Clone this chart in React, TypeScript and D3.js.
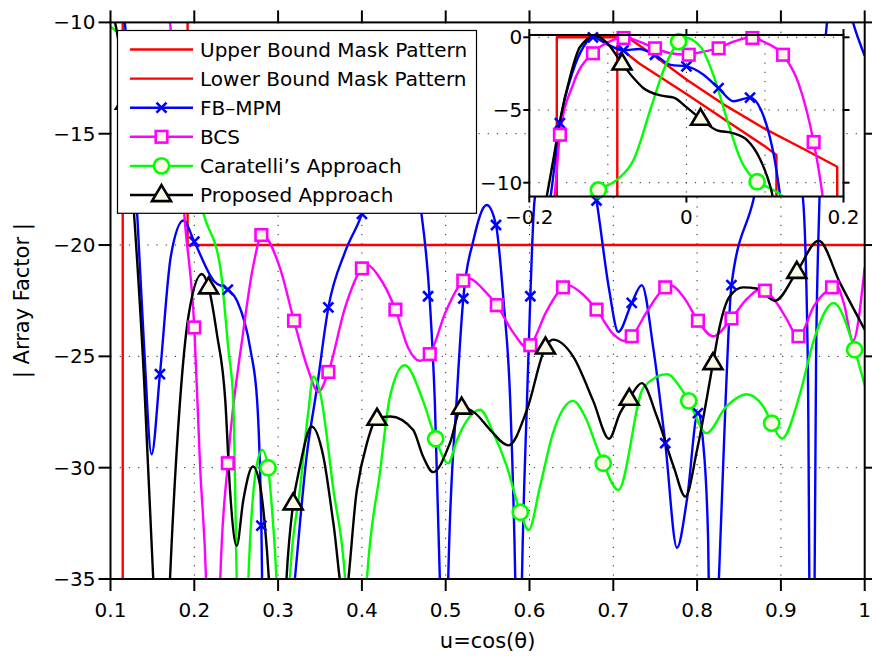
import React from 'react';
import * as d3 from 'd3';

// ---------- axis ticks ----------
const X_TICKS = [0.1, 0.2, 0.3, 0.4, 0.5, 0.6, 0.7, 0.8, 0.9, 1.0];
const X_TICK_LABELS = ['0.1', '0.2', '0.3', '0.4', '0.5', '0.6', '0.7', '0.8', '0.9', '1'];
const Y_TICKS = [-10, -15, -20, -25, -30, -35];
const Y_TICK_LABELS = ['−10', '−15', '−20', '−25', '−30', '−35'];
const INSET_X_TICKS = [-0.2, 0, 0.2];
const INSET_X_TICK_LABELS = ['−0.2', '0', '0.2'];
const INSET_X_GRID = [-0.1, 0, 0.1];
const INSET_Y_TICKS = [0, -5, -10];
const INSET_Y_TICK_LABELS = ['0', '−5', '−10'];

const LEGEND_LABELS = [
  'Upper Bound Mask Pattern',
  'Lower Bound Mask Pattern',
  'FB–MPM',
  'BCS',
  'Caratelli’s Approach',
  'Proposed Approach',
];

// ---------- masks ----------
const UPPER_U = [-0.165, -0.165, -0.075, -0.04, 0.0, 0.05, 0.1, 0.15, 0.192, 0.192, 1.0];
const UPPER_DB = [-60, 0, 0, -1.3, -2.9, -4.7, -6.3, -7.7, -8.9, -20, -20];
const LOWER_U = [-0.088, -0.088, -0.06, 0.0, 0.05, 0.1, 0.1146, 0.1146];
const LOWER_DB = [-60, -0.6, -1.8, -3.9, -5.7, -7.5, -8.1, -60];

// ---------- FB-MPM ----------
const FB_U = [-0.19, -0.173, -0.161, -0.144, -0.131, -0.119, -0.1, -0.08, -0.06, -0.04, -0.02, 0.0, 0.02, 0.041, 0.06, 0.081, 0.095, 0.106, 0.112, 0.117, 0.122, 0.132, 0.14, 0.149, 0.159, 0.172, 0.187, 0.2, 0.223, 0.24, 0.251, 0.267, 0.275, 0.28, 0.283, 0.302, 0.32, 0.334, 0.346, 0.36, 0.38, 0.4, 0.436, 0.469, 0.481, 0.487, 0.493, 0.498, 0.503, 0.513, 0.521, 0.533, 0.549, 0.56, 0.569, 0.577, 0.583, 0.587, 0.591, 0.597, 0.601, 0.606, 0.643, 0.68, 0.695, 0.706, 0.722, 0.734, 0.748, 0.762, 0.776, 0.788, 0.801, 0.807, 0.813, 0.8175, 0.826, 0.834, 0.841, 0.867, 0.895, 0.926, 0.932, 0.937, 0.942, 0.946, 0.955, 0.97, 0.986, 1.0];
const FB_DB = [-16, -11.0, -5.9, -2.25, -0.65, 0.0, -0.5, -0.9, -0.8, -1.2, -1.9, -2.0, -2.5, -3.5, -4.4, -4.15, -5.0, -6.8, -8.3, -10.0, -12.0, -18.7, -24.5, -29.4, -25.8, -20.5, -18.9, -19.85, -21.6, -22.0, -22.5, -24.7, -27.0, -32.6, -40, -42, -35, -29.5, -26.5, -22.8, -20.3, -18.6, -13.0, -18.0, -22.5, -27.0, -35, -45, -35, -27.0, -22.4, -19.8, -18.2, -19.1, -22.5, -27.0, -35, -45, -35, -27.0, -22.3, -18.0, -12.0, -18.0, -22.0, -23.9, -22.6, -21.8, -24.7, -28.9, -33.6, -31.4, -27.55, -28.8, -33.0, -45, -35, -27.0, -21.8, -18.0, -13.0, -17.8, -25, -50, -25, -18, -10.0, -7.5, -10.0, -11.5];
const FB_MK_U = [-0.161, -0.119, -0.08, -0.04, 0.0, 0.041, 0.081, 0.159, 0.2, 0.24, 0.28, 0.36, 0.4, 0.44, 0.479, 0.521, 0.56, 0.601, 0.64, 0.68, 0.722, 0.762, 0.801, 0.841, 0.88, 0.92];
const FB_MK_DB = [-5.9, 0.0, -0.9, -1.2, -2.0, -3.5, -4.15, -25.8, -19.85, -22.0, -32.6, -22.8, -18.6, -13.5, -22.3, -22.4, -19.1, -22.3, -12.5, -18.0, -22.6, -28.9, -27.55, -21.8, -13.5, -15.5];

// ---------- BCS ----------
const BCS_U = [-0.175, -0.168, -0.161, -0.144, -0.12, -0.1, -0.08, -0.06, -0.04, -0.02, 0.0, 0.02, 0.04, 0.06, 0.083, 0.1, 0.123, 0.143, 0.162, 0.171, 0.18, 0.188, 0.2, 0.207, 0.214, 0.2225, 0.231, 0.24, 0.258, 0.27, 0.281, 0.302, 0.319, 0.335, 0.348, 0.36, 0.38, 0.4, 0.407, 0.42, 0.44, 0.455, 0.469, 0.481, 0.5, 0.521, 0.528, 0.545, 0.561, 0.58, 0.597, 0.601, 0.62, 0.64, 0.646, 0.66, 0.68, 0.7, 0.712, 0.722, 0.74, 0.762, 0.768, 0.785, 0.801, 0.819, 0.841, 0.86, 0.875, 0.881, 0.895, 0.905, 0.921, 0.94, 0.961, 0.966, 0.975, 0.986, 1.0];
const BCS_DB = [-13, -11.0, -6.7, -3.2, -1.1, -0.35, 0.0, -0.3, -0.76, -1.1, -1.2, -1.0, -0.76, -0.3, 0.0, -0.35, -1.2, -3.2, -7.2, -10.0, -14.0, -18.6, -23.7, -30.0, -35, -50, -35, -29.8, -24.0, -21.0, -19.55, -21.0, -23.4, -25.5, -26.6, -25.7, -22.8, -21.05, -20.9, -21.4, -22.9, -24.6, -25.2, -24.9, -23.0, -21.6, -21.5, -22.0, -22.7, -23.9, -24.6, -24.5, -23.0, -21.9, -21.8, -22.1, -22.9, -24.0, -24.3, -24.1, -23.0, -21.9, -21.8, -22.4, -23.4, -24.1, -23.3, -22.4, -22.0, -22.05, -22.6, -23.2, -24.1, -22.7, -21.9, -21.8, -22.6, -24.3, -21.0];
const BCS_MK_U = [-0.161, -0.119, -0.08, -0.04, 0.003, 0.041, 0.084, 0.123, 0.162, 0.2, 0.24, 0.28, 0.319, 0.36, 0.4, 0.44, 0.481, 0.521, 0.561, 0.601, 0.64, 0.68, 0.722, 0.762, 0.801, 0.841, 0.881, 0.921, 0.961];
const BCS_MK_DB = [-6.7, -1.1, -0.05, -0.76, -1.2, -0.76, -0.05, -1.2, -7.2, -23.7, -29.8, -19.55, -23.4, -25.7, -21.05, -22.9, -24.9, -21.6, -22.7, -24.5, -21.9, -22.9, -24.1, -21.9, -23.4, -23.3, -22.05, -24.1, -21.9];

// ---------- Caratelli ----------
const CAR_U = [-0.135, -0.123, -0.112, -0.0885, -0.067, -0.046, -0.029, -0.01, -0.0036, 0.018, 0.035, 0.052, 0.069, 0.09, 0.1, 0.107, 0.124, 0.145, 0.17, 0.195, 0.211, 0.231, 0.2407, 0.2465, 0.2506, 0.257, 0.2645, 0.274, 0.281, 0.288, 0.293, 0.298, 0.306, 0.314, 0.326, 0.336, 0.342, 0.35, 0.366, 0.38, 0.393, 0.406, 0.4216, 0.4335, 0.451, 0.473, 0.488, 0.503, 0.513, 0.525, 0.541, 0.557, 0.573, 0.589, 0.599, 0.6125, 0.628, 0.652, 0.668, 0.68, 0.688, 0.706, 0.736, 0.764, 0.78, 0.79, 0.811, 0.835, 0.859, 0.879, 0.889, 0.901, 0.923, 0.939, 0.963, 0.988, 1.0];
const CAR_DB = [-13, -11.0, -10.5, -9.8, -8.4, -5.0, -2.25, -0.3, 0.0, -0.65, -2.7, -5.7, -8.4, -9.93, -10.2, -10.4, -11.0, -12.8, -14.2, -16.0, -18.6, -21.0, -24.7, -27.0, -35, -45, -35, -30.0, -29.2, -30.0, -32.0, -35, -45, -35, -31.0, -27.5, -25.9, -26.6, -31.0, -35, -45, -35, -30.2, -26.8, -25.4, -27.0, -28.7, -29.8, -28.8, -27.9, -27.4, -28.45, -29.95, -32.0, -32.8, -30.85, -28.45, -27.0, -27.85, -29.05, -29.8, -31.0, -26.4, -25.8, -26.4, -27.0, -28.45, -27.25, -26.7, -27.25, -28.0, -28.7, -26.65, -24.3, -22.6, -24.7, -26.3];
const CAR_MK_U = [-0.112, -0.01, 0.09, 0.19, 0.288, 0.488, 0.589, 0.688, 0.79, 0.889, 0.988];
const CAR_MK_DB = [-10.5, -0.3, -9.93, -16.2, -30.0, -28.7, -32.0, -29.8, -27.0, -28.0, -24.7];

// ---------- Proposed ----------
const PRO_U = [-0.19, -0.178, -0.1694, -0.1608, -0.148, -0.1353, -0.115, -0.1, -0.082, -0.0673, -0.0546, -0.033, -0.016, 0.0, 0.018, 0.039, 0.06, 0.077, 0.094, 0.103, 0.108, 0.118, 0.127, 0.14, 0.151, 0.161, 0.171, 0.183, 0.193, 0.209, 0.217, 0.227, 0.237, 0.2426, 0.2506, 0.2585, 0.27, 0.278, 0.284, 0.289, 0.3, 0.31, 0.318, 0.326, 0.34, 0.354, 0.366, 0.379, 0.394, 0.406, 0.418, 0.434, 0.461, 0.473, 0.485, 0.505, 0.519, 0.535, 0.553, 0.575, 0.597, 0.619, 0.628, 0.652, 0.676, 0.695, 0.708, 0.719, 0.734, 0.752, 0.772, 0.786, 0.8, 0.819, 0.827, 0.839, 0.855, 0.871, 0.893, 0.919, 0.945, 0.9705, 1.0];
const PRO_DB = [-14, -11.0, -8.4, -5.7, -2.7, -0.65, 0.1, -0.45, -1.8, -2.8, -3.5, -4.0, -4.15, -4.8, -5.6, -6.4, -6.6, -7.06, -8.4, -9.6, -10.5, -13.6, -18.0, -26.0, -35, -45, -35, -27.0, -23.2, -21.3, -21.9, -24.0, -27.0, -31.0, -33.5, -31.45, -29.95, -30.7, -32.5, -35, -45, -35, -31.6, -29.95, -28.15, -29.5, -32.5, -36, -31.0, -28.9, -27.8, -27.7, -28.3, -29.5, -30.2, -28.9, -27.3, -27.55, -28.3, -29.0, -27.4, -24.6, -24.25, -25.0, -27.0, -28.7, -27.55, -26.9, -26.2, -27.7, -29.95, -31.3, -29.2, -25.3, -23.65, -22.3, -21.9, -21.95, -22.5, -21.2, -19.8, -21.7, -23.8];
const PRO_MK_U = [-0.082, 0.018, 0.118, 0.217, 0.318, 0.418, 0.519, 0.619, 0.719, 0.819, 0.919];
const PRO_MK_DB = [-1.8, -5.6, -13.6, -21.9, -31.6, -27.8, -27.3, -24.6, -26.9, -25.3, -21.2];

const RED = '#ff0000';
const BLUE = '#0000ff';
const MAGENTA = '#ff00ff';
const GREEN = '#00ff00';
const BLACK = '#000000';
const CREAM = '#fbf9e3';
const FONT = 'DejaVu Sans';

type Pt = [number, number];
const zip = (a: number[], b: number[]): Pt[] => a.map((v, i) => [v, b[i]] as Pt);

type Shape = 'none' | 'x' | 'square' | 'circle' | 'triangle';

function Marker({ shape, color, cx, cy }: { shape: Shape; color: string; cx: number; cy: number }) {
  if (shape === 'x') {
    const s = 5;
    return (
      <g stroke={color} strokeWidth={2.6}>
        <line x1={cx - s} y1={cy - s} x2={cx + s} y2={cy + s} />
        <line x1={cx - s} y1={cy + s} x2={cx + s} y2={cy - s} />
      </g>
    );
  }
  if (shape === 'square') {
    const s = 5.8;
    return <rect x={cx - s} y={cy - s} width={2 * s} height={2 * s} fill={CREAM} stroke={color} strokeWidth={2.6} />;
  }
  if (shape === 'circle') {
    return <circle cx={cx} cy={cy} r={7.6} fill={CREAM} stroke={color} strokeWidth={2.6} />;
  }
  if (shape === 'triangle') {
    const w = 9.5;
    const h = 16;
    return (
      <path
        d={`M${cx},${cy - h * 0.62} L${cx + w},${cy + h * 0.38} L${cx - w},${cy + h * 0.38} Z`}
        fill={CREAM}
        stroke={color}
        strokeWidth={2.6}
        strokeLinejoin="miter"
      />
    );
  }
  return null;
}

interface Series {
  line: Pt[];
  marks: Pt[];
  color: string;
  shape: Shape;
  linear?: boolean;
}

const SERIES: Series[] = [
  { line: zip(UPPER_U, UPPER_DB), marks: [], color: RED, shape: 'none', linear: true },
  { line: zip(LOWER_U, LOWER_DB), marks: [], color: RED, shape: 'none', linear: true },
  { line: zip(FB_U, FB_DB), marks: zip(FB_MK_U, FB_MK_DB), color: BLUE, shape: 'x' },
  { line: zip(BCS_U, BCS_DB), marks: zip(BCS_MK_U, BCS_MK_DB), color: MAGENTA, shape: 'square' },
  { line: zip(CAR_U, CAR_DB), marks: zip(CAR_MK_U, CAR_MK_DB), color: GREEN, shape: 'circle' },
  { line: zip(PRO_U, PRO_DB), marks: zip(PRO_MK_U, PRO_MK_DB), color: BLACK, shape: 'triangle' },
];

function Plot({
  sx,
  sy,
  clipId,
}: {
  sx: d3.ScaleLinear<number, number>;
  sy: d3.ScaleLinear<number, number>;
  clipId: string;
}) {
  const [u0, u1] = sx.domain();
  const [d0, d1] = sy.domain();
  return (
    <g>
      <g clipPath={`url(#${clipId})`}>
        {SERIES.map((s, i) => {
          const gen = d3
            .line<Pt>()
            .x((d) => sx(d[0]))
            .y((d) => sy(d[1]))
            .curve(s.linear ? d3.curveLinear : d3.curveMonotoneX);
          return <path key={i} d={gen(s.line) || ''} fill="none" stroke={s.color} strokeWidth={2.4} strokeLinejoin="round" />;
        })}
      </g>
      {SERIES.map((s, i) => (
        <g key={'m' + i}>
          {s.marks
            .filter((p) => p[0] >= u0 && p[0] <= u1 && p[1] >= Math.min(d0, d1) && p[1] <= Math.max(d0, d1))
            .map((p, j) => (
              <Marker key={j} shape={s.shape} color={s.color} cx={sx(p[0])} cy={sy(p[1])} />
            ))}
        </g>
      ))}
    </g>
  );
}

export default function App() {
  const W = 872;
  const H = 659;
  // main axes
  const L = 110.5, R = 864.7, T = 22.4, B = 579;
  const x = d3.scaleLinear().domain([0.1, 1]).range([L, R]);
  const y = d3.scaleLinear().domain([-35, -10]).range([B, T]);
  // inset axes
  const iL = 529.3, iR = 843.5;
  const xi = d3.scaleLinear().domain([-0.2, 0.2]).range([iL, iR]);
  const yiBase = d3.scaleLinear().domain([-10, 0]).range([182.7, 37.3]);
  const iT = yiBase(0.16);
  const iB = yiBase(-10.95);
  const yi = d3.scaleLinear().domain([-10.95, 0.16]).range([iB, iT]);

  const tick = 12;
  const itick = 6;
  const dots = '1.2 8';

  const legX = 117.5, legY = 30.5, legW = 359, legH = 182.8;
  const rowY0 = 49.5, rowStep = 29.1;
  const legendShapes: Shape[] = ['none', 'none', 'x', 'square', 'circle', 'triangle'];
  const legendColors = [RED, RED, BLUE, MAGENTA, GREEN, BLACK];

  return (
    <svg width={W} height={H} style={{ position: 'absolute', left: 0, top: 0, background: '#fff' }} fontFamily={FONT}>
      <defs>
        <clipPath id="mainClip">
          <rect x={L} y={T} width={R - L} height={B - T} />
        </clipPath>
        <clipPath id="insetClip">
          <rect x={iL} y={iT} width={iR - iL} height={iB - iT} />
        </clipPath>
      </defs>
      <rect x={0} y={0} width={W} height={H} fill="#fff" />

      {/* main grid */}
      <g stroke="#222" strokeWidth={1} strokeDasharray={dots}>
        {X_TICKS.slice(1, -1).map((t, i) => (
          <line key={'gx' + i} x1={x(t)} x2={x(t)} y1={T} y2={B} />
        ))}
        {Y_TICKS.slice(1, -1).map((t, i) => (
          <line key={'gy' + i} x1={L} x2={R} y1={y(t)} y2={y(t)} />
        ))}
      </g>

      <Plot sx={x} sy={y} clipId="mainClip" />

      {/* main axes box & ticks */}
      <rect x={L} y={T} width={R - L} height={B - T} fill="none" stroke="#000" strokeWidth={2} />
      <g stroke="#000" strokeWidth={2}>
        {X_TICKS.map((t, i) => (
          <g key={'xt' + i}>
            <line x1={x(t)} x2={x(t)} y1={B} y2={B + tick} />
            <line x1={x(t)} x2={x(t)} y1={T} y2={T - tick} />
          </g>
        ))}
        {Y_TICKS.map((t, i) => (
          <g key={'yt' + i}>
            <line x1={L} x2={L - tick} y1={y(t)} y2={y(t)} />
            <line x1={R} x2={R + tick} y1={y(t)} y2={y(t)} />
          </g>
        ))}
      </g>
      <g fontSize={20} fill="#000">
        {X_TICKS.map((t, i) => (
          <text key={'xl' + i} x={x(t)} y={B + 38} textAnchor="middle">
            {X_TICK_LABELS[i]}
          </text>
        ))}
        {Y_TICKS.map((t, i) => (
          <text key={'yl' + i} x={L - tick - 3} y={y(t) + 7} textAnchor="end">
            {Y_TICK_LABELS[i]}
          </text>
        ))}
        <text x={(L + R) / 2} y={648} textAnchor="middle" fontSize={21}>
          u=cos(θ)
        </text>
        <text transform={`translate(29,${(T + B) / 2}) rotate(-90)`} textAnchor="middle" fontSize={21}>
          | Array Factor |
        </text>
      </g>

      {/* inset */}
      <rect x={iL} y={iT} width={iR - iL} height={iB - iT} fill="#fff" />
      <g stroke="#222" strokeWidth={1} strokeDasharray={dots}>
        {INSET_X_GRID.map((t, i) => (
          <line key={'igx' + i} x1={xi(t)} x2={xi(t)} y1={iT} y2={iB} />
        ))}
        {INSET_Y_TICKS.map((t, i) => (
          <line key={'igy' + i} x1={iL} x2={iR} y1={yi(t)} y2={yi(t)} />
        ))}
      </g>
      <Plot sx={xi} sy={yi} clipId="insetClip" />
      <rect x={iL} y={iT} width={iR - iL} height={iB - iT} fill="none" stroke="#000" strokeWidth={2} />
      <g stroke="#000" strokeWidth={2}>
        {INSET_X_TICKS.map((t, i) => (
          <g key={'ixt' + i}>
            <line x1={xi(t)} x2={xi(t)} y1={iB} y2={iB + itick} />
            <line x1={xi(t)} x2={xi(t)} y1={iT} y2={iT - itick} />
          </g>
        ))}
        {INSET_Y_TICKS.map((t, i) => (
          <g key={'iyt' + i}>
            <line x1={iL} x2={iL - itick} y1={yi(t)} y2={yi(t)} />
            <line x1={iR} x2={iR + itick} y1={yi(t)} y2={yi(t)} />
          </g>
        ))}
      </g>
      <g fontSize={20} fill="#000">
        {INSET_X_TICKS.map((t, i) => (
          <text key={'ixl' + i} x={xi(t)} y={iB + 27} textAnchor="middle">
            {INSET_X_TICK_LABELS[i]}
          </text>
        ))}
        {INSET_Y_TICKS.map((t, i) => (
          <text key={'iyl' + i} x={iL - itick - 1} y={yi(t) + 7} textAnchor="end">
            {INSET_Y_TICK_LABELS[i]}
          </text>
        ))}
      </g>

      {/* legend */}
      <rect x={legX} y={legY} width={legW} height={legH} fill="#fff" stroke="#000" strokeWidth={1.2} />
      {LEGEND_LABELS.map((lab, i) => {
        const ry = rowY0 + i * rowStep;
        return (
          <g key={'lg' + i}>
            <line x1={130} x2={193} y1={ry} y2={ry} stroke={legendColors[i]} strokeWidth={2.4} />
            <Marker shape={legendShapes[i]} color={legendColors[i]} cx={161.5} cy={ry} />
            <text x={200} y={ry + 7} fontSize={20} fill="#000">
              {lab}
            </text>
          </g>
        );
      })}
    </svg>
  );
}
